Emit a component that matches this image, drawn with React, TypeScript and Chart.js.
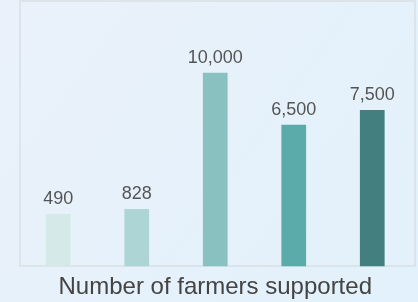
import React, { useEffect, useRef } from "react";
import { Chart, registerables } from "chart.js";

Chart.register(...registerables);

const categories = ["Project 1", "Project 2", "Project 3", "Project 4", "Project 5"];
const farmersSupported = [490, 828, 10000, 6500, 7500];
const barColors = ["#d5eae8", "#aed5d5", "#89c1c1", "#5babaa", "#437f7f"];
const axisTitle = "Number of farmers supported";
const valueMin = -3035;
const valueMax = 14830;

const backgroundPlugin = {
  id: "bgPlugin",
  beforeDraw(chart: any) {
    const { ctx, width, height } = chart;
    ctx.save();
    const g = ctx.createLinearGradient(0, 0, width, height);
    g.addColorStop(0, "#eaf1fa");
    g.addColorStop(1, "#e2f1fb");
    ctx.fillStyle = g;
    ctx.fillRect(0, 0, width, height);
    ctx.restore();
  },
  beforeDatasetsDraw(chart: any) {
    const { ctx, chartArea } = chart;
    ctx.save();
    ctx.strokeStyle = "#d9dfe5";
    ctx.lineWidth = 1.5;
    ctx.strokeRect(chartArea.left + 1, chartArea.top, chartArea.right - chartArea.left + 2.5, chartArea.bottom - chartArea.top - 0.5);
    ctx.restore();
  },
};

const valueLabelPlugin = {
  id: "valueLabels",
  afterDatasetsDraw(chart: any) {
    const { ctx } = chart;
    const meta = chart.getDatasetMeta(0);
    ctx.save();
    ctx.font = "18px 'Liberation Sans', Arial, sans-serif";
    ctx.fillStyle = "#555555";
    ctx.textAlign = "center";
    ctx.textBaseline = "alphabetic";
    meta.data.forEach((bar: any, i: number) => {
      const text = farmersSupported[i].toLocaleString("en-US");
      ctx.fillText(text, bar.x, bar.y - 10);
    });
    ctx.restore();
  },
};

export default function App() {
  const ref = useRef<HTMLCanvasElement | null>(null);
  useEffect(() => {
    document.body.style.margin = "0";
    if (!ref.current) return;
    const chart = new Chart(ref.current, {
      type: "bar",
      data: {
        labels: categories,
        datasets: [
          {
            data: farmersSupported,
            backgroundColor: barColors,
            base: valueMin,
            barPercentage: 0.315,
            categoryPercentage: 1,
          } as any,
        ],
      },
      options: {
        animation: false,
        responsive: false,
        maintainAspectRatio: false,
        layout: { padding: { left: 19, right: 6.5, top: 1, bottom: 0 } },
        plugins: {
          legend: { display: false },
          tooltip: { enabled: false },
        },
        scales: {
          x: {
            display: true,
            grid: { display: false, drawTicks: false },
            border: { display: false },
            ticks: { display: false },
            title: {
              display: true,
              text: axisTitle,
              color: "#444444",
              font: { family: "'Liberation Sans', Arial, sans-serif", size: 24, lineHeight: 1.2 },
              padding: { top: 6.7, bottom: 0 },
            },
          },
          y: {
            display: false,
            min: valueMin,
            max: valueMax,
          },
        },
      },
      plugins: [backgroundPlugin, valueLabelPlugin],
    });
    return () => chart.destroy();
  }, []);
  return (
    <div style={{ width: 418, height: 302 }}>
      <canvas ref={ref} width={418} height={302} style={{ display: "block" }} />
    </div>
  );
}
